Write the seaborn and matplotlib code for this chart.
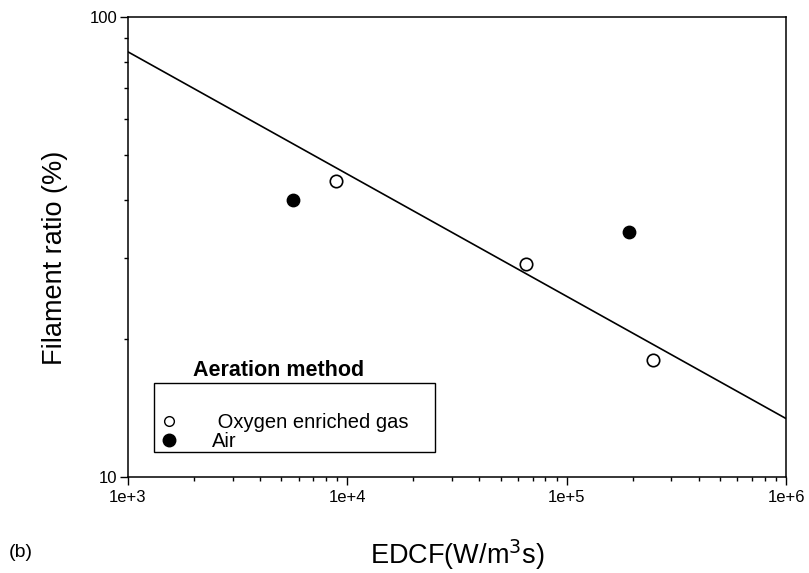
import numpy as np
import pandas as pd
import matplotlib
matplotlib.use("Agg")
import matplotlib.pyplot as plt
import seaborn as sns
from matplotlib.ticker import FixedLocator, FixedFormatter, LogLocator, NullFormatter
from matplotlib.lines import Line2D
from matplotlib.patches import Rectangle

# Data
oxy_x = [8880, 65300, 247000]
oxy_y = [44.0, 29.0, 18.0]
air_x = [5640, 192500]
air_y = [40.0, 34.1]
fit_x = [1e3, 1e6]
fit_y = [84.0, 13.4]
x_ticks = [1e3, 1e4, 1e5, 1e6]
x_labels = ["1e+3", "1e+4", "1e+5", "1e+6"]
y_ticks = [10, 100]
y_labels = ["10", "100"]

sns.set_style("ticks")
plt.rcParams['font.family'] = ['Liberation Sans', 'DejaVu Sans']
plt.rcParams['text.color'] = 'black'
plt.rcParams['axes.labelcolor'] = 'black'
plt.rcParams['xtick.color'] = 'black'
plt.rcParams['ytick.color'] = 'black'

fig = plt.figure(figsize=(8.09, 5.73), dpi=100)
ax = fig.add_axes([0.1582, 0.1675, 0.8134, 0.8028])

df_oxy = pd.DataFrame({"x": oxy_x, "y": oxy_y})
df_air = pd.DataFrame({"x": air_x, "y": air_y})
df_fit = pd.DataFrame({"x": fit_x, "y": fit_y})

sns.lineplot(data=df_fit, x="x", y="y", ax=ax, color="black", linewidth=1.2)
sns.scatterplot(data=df_oxy, x="x", y="y", ax=ax, s=80, facecolor="white",
                edgecolor="black", linewidth=1.2, zorder=3)
sns.scatterplot(data=df_air, x="x", y="y", ax=ax, s=80, color="black",
                edgecolor="black", linewidth=1.0, zorder=3)

ax.set_xscale("log")
ax.set_yscale("log")
ax.set_xlim(1e3, 1e6)
ax.set_ylim(10, 100)

ax.xaxis.set_major_locator(FixedLocator(x_ticks))
ax.xaxis.set_major_formatter(FixedFormatter(x_labels))
ax.xaxis.set_minor_locator(LogLocator(base=10, subs=np.arange(2, 10)))
ax.xaxis.set_minor_formatter(NullFormatter())
ax.yaxis.set_major_locator(FixedLocator(y_ticks))
ax.yaxis.set_major_formatter(FixedFormatter(y_labels))
ax.yaxis.set_minor_locator(LogLocator(base=10, subs=np.arange(2, 10)))
ax.yaxis.set_minor_formatter(NullFormatter())

ax.tick_params(which="major", direction="out", length=6, width=1, labelsize=12,
               top=False, right=False)
ax.tick_params(axis="y", which="major", pad=1.5)
ax.tick_params(which="minor", direction="out", length=3, width=1,
               top=False, right=False)
for sp in ax.spines.values():
    sp.set_visible(True)
    sp.set_linewidth(1.1)
    sp.set_color("black")

ax.set_xlabel("EDCF(W/m$^3$s)", fontsize=19.5)
ax.xaxis.set_label_coords(0.5, -0.131)
ax.set_ylabel("Filament ratio (%)", fontsize=19.5)
ax.yaxis.set_label_coords(-0.091, 0.476)

# legend frame (title sits above it)
ax.add_patch(Rectangle((0.0395, 0.0543), 0.4271, 0.15, transform=ax.transAxes,
                       facecolor="white", edgecolor="black", linewidth=1.0,
                       zorder=4))
handles = [
    Line2D([], [], marker="o", linestyle="none", markersize=7,
           markerfacecolor="white", markeredgecolor="black", markeredgewidth=1.0),
    Line2D([], [], marker="o", linestyle="none", markersize=9,
           markerfacecolor="black", markeredgecolor="black"),
]
leg = ax.legend(handles, [" Oxygen enriched gas", "Air"], loc="lower left",
                bbox_to_anchor=(0.0475, 0.0555), borderaxespad=0, borderpad=0,
                fontsize=14.5, frameon=False, handletextpad=1.6,
                labelspacing=0.0, handlelength=1.0)
leg.set_zorder(5)
ax.text(0.0988, 0.2326, "Aeration method", transform=ax.transAxes,
        fontsize=15.5, fontweight="bold", ha="left", va="center")

fig.text(0.011, 0.036, "(b)", fontsize=14, ha="left", va="center")

fig.savefig("out.png", dpi=100)
